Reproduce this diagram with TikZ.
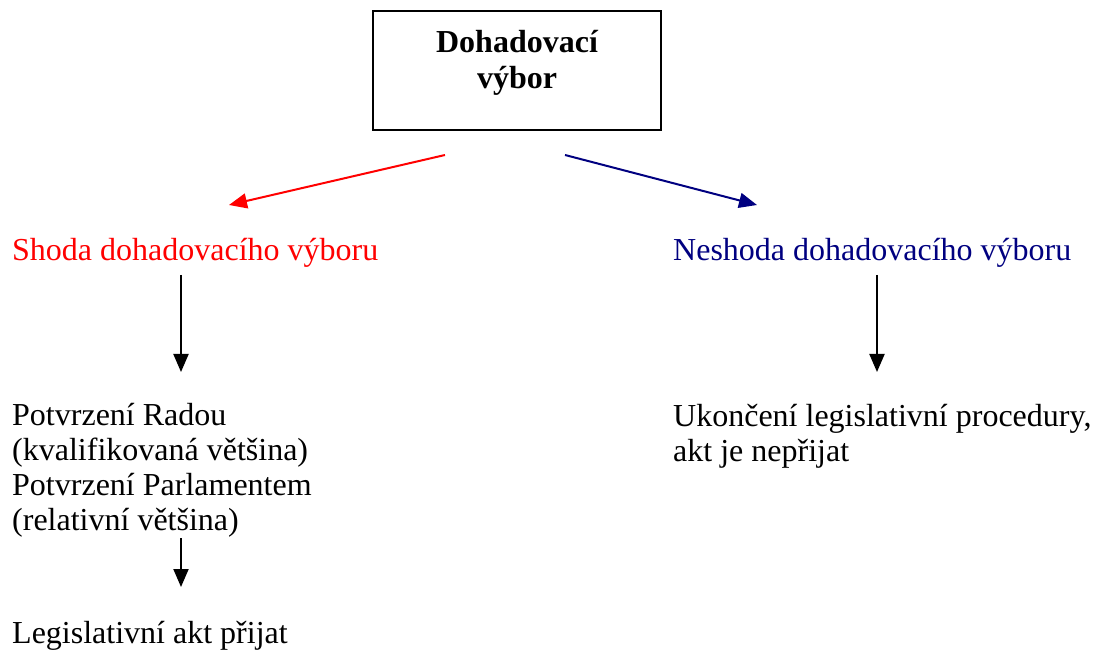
\documentclass[tikz,border=0pt]{standalone}
\usepackage{fontspec}
\setmainfont{Liberation Serif}
\usetikzlibrary{arrows.meta}
\definecolor{agree}{RGB}{255,0,0}
\definecolor{disagree}{RGB}{0,0,128}
\tikzset{
  label/.style={anchor=base west, inner sep=0pt, font=\fontsize{32}{35}\selectfont, align=left},
  flow/.style={line width=2pt, -{Triangle[length=18pt,width=15pt]}},
}
\begin{document}
\begin{tikzpicture}[x=1pt,y=-1pt]
  \useasboundingbox (0,0) rectangle (1093,652);
  % committee box
  \draw[line width=1.5pt] (373,11) rectangle (661,130);
  \node[inner sep=0pt, anchor=base, align=center, font=\fontsize{32}{36}\selectfont\bfseries] (box) at (517,89)
    {Dohadovací\\výbor};
  % outcome labels (anchored at the baseline of the last line)
  \node[label, text=agree] (shoda) at (12,261) {Shoda dohadovacího výboru};
  \node[label, text=disagree] (neshoda) at (673,261) {Neshoda dohadovacího výboru};
  \node[label] (potvrzeni) at (12,530) {Potvrzení Radou\\(kvalifikovaná většina)\\Potvrzení Parlamentem\\(relativní většina)};
  \node[label] (prijat) at (12,643) {Legislativní akt přijat};
  \node[label] (ukonceni) at (673,461) {Ukončení legislativní procedury,\\akt je nepřijat};
  % arrow end points
  \coordinate (rs) at (445,155);
  \coordinate (re) at (229,205);
  \coordinate (bs) at (565,155);
  \coordinate (be) at (757,205);
  \coordinate (a1s) at (181,275);
  \coordinate (a1e) at (181,372);
  \coordinate (a2s) at (181,538);
  \coordinate (a2e) at (181,587);
  \coordinate (a3s) at (877,275);
  \coordinate (a3e) at (877,372);
  \draw[flow, agree] (rs) -- (re);
  \draw[flow, disagree] (bs) -- (be);
  \draw[flow] (a1s) -- (a1e);
  \draw[flow] (a2s) -- (a2e);
  \draw[flow] (a3s) -- (a3e);
\end{tikzpicture}
\end{document}
